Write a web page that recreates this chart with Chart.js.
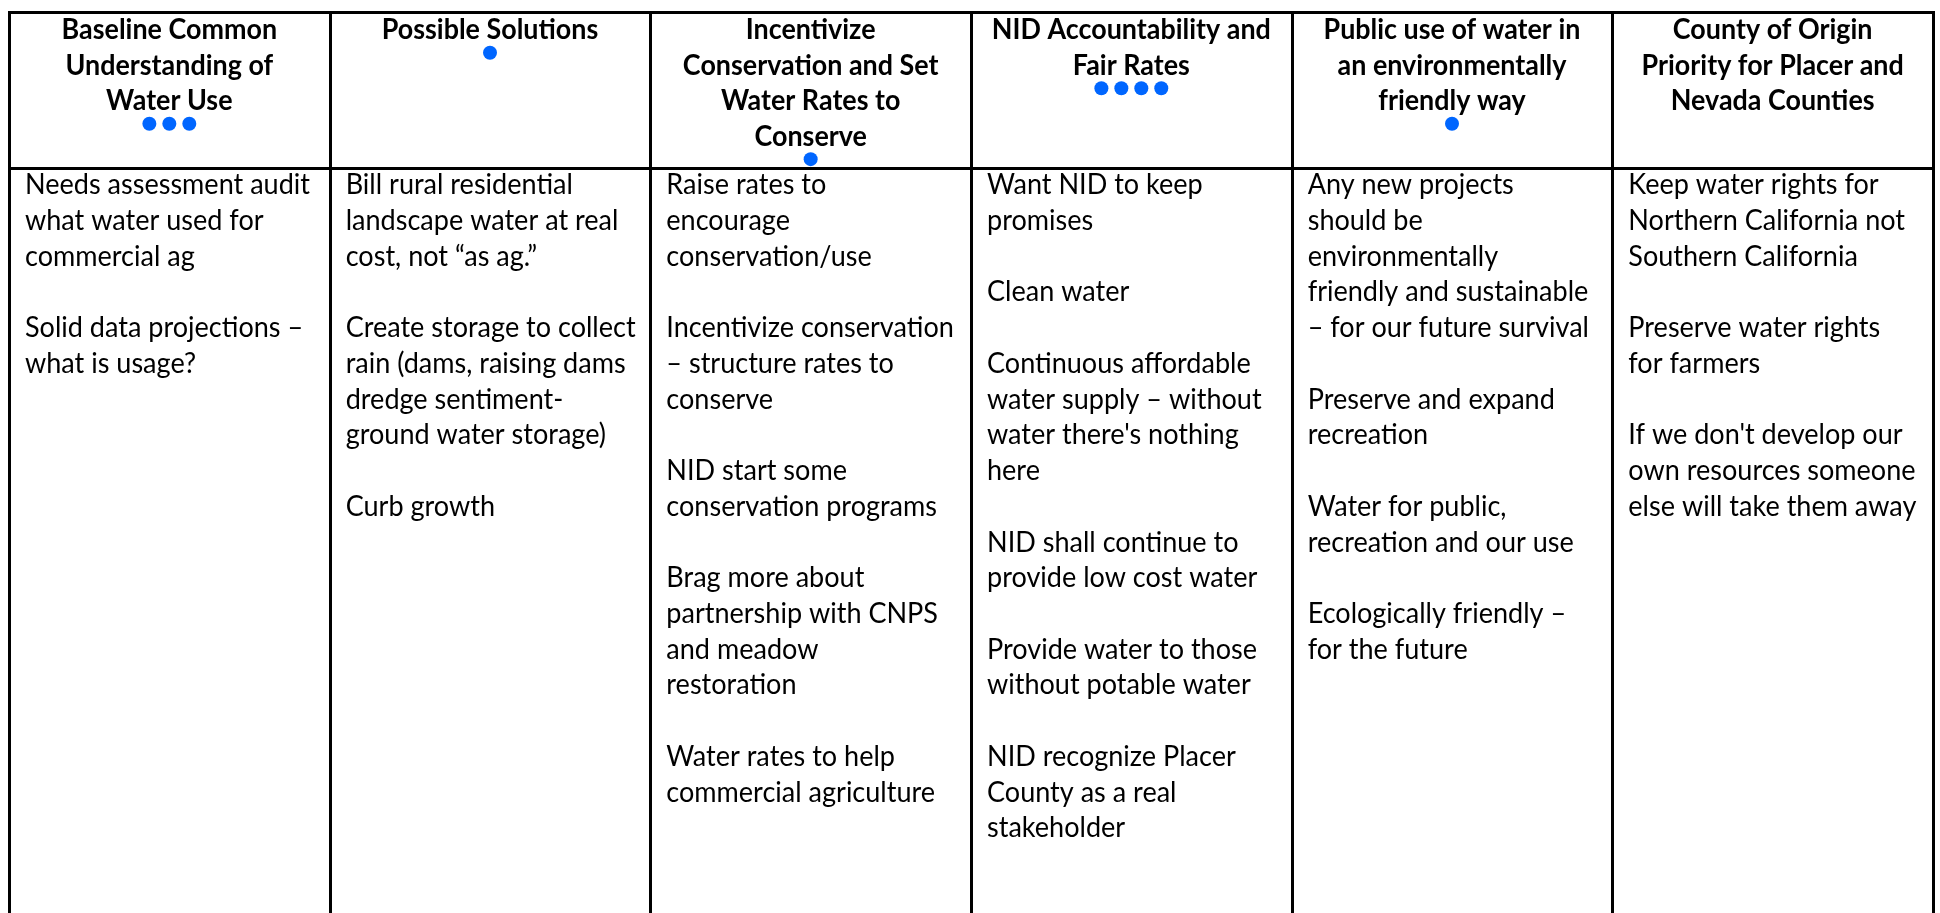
<!DOCTYPE html>
<html>
<head>
<meta charset="utf-8">
<script src="https://cdn.jsdelivr.net/npm/chart.js@4.4.1/dist/chart.umd.min.js"></script>
<style>
  html, body { margin: 0; padding: 0; background: #ffffff; overflow: hidden; }
  #wrap { position: relative; width: 1940px; height: 913px; }
  canvas { display: block; }
</style>
</head>
<body>
<div id="wrap"><canvas id="chart" width="1940" height="913"></canvas></div>
<script>
// ---- Data ----
const categories = [
  ["Baseline Common", "Understanding of", "Water Use"],
  ["Possible Solutions"],
  ["Incentivize", "Conservation and Set", "Water Rates to", "Conserve"],
  ["NID Accountability and", "Fair Rates"],
  ["Public use of water in", "an environmentally", "friendly way"],
  ["County of Origin", "Priority for Placer and", "Nevada Counties"]
];

// number of blue dots (votes) under each heading
const votes = [3, 1, 1, 4, 1, 0];

const notesBaseline = [
  ["Needs assessment audit", "what water used for", "commercial ag"],
  ["Solid data projections \u2013", "what is usage?"]
];
const notesSolutions = [
  ["Bill rural residential", "landscape water at real", "cost, not \u201cas ag.\u201d"],
  ["Create storage to collect", "rain (dams, raising dams", "dredge sentiment-", "ground water storage)"],
  ["Curb growth"]
];
const notesConservation = [
  ["Raise rates to", "encourage", "conservation/use"],
  ["Incentivize conservation", "\u2013 structure rates to", "conserve"],
  ["NID start some", "conservation programs"],
  ["Brag more about", "partnership with CNPS", "and meadow", "restoration"],
  ["Water rates to help", "commercial agriculture"]
];
const notesAccountability = [
  ["Want NID to keep", "promises"],
  ["Clean water"],
  ["Continuous affordable", "water supply \u2013 without", "water there's nothing", "here"],
  ["NID shall continue to", "provide low cost water"],
  ["Provide water to those", "without potable water"],
  ["NID recognize Placer", "County as a real", "stakeholder"]
];
const notesPublicUse = [
  ["Any new projects", "should be", "environmentally", "friendly and sustainable", "\u2013 for our future survival"],
  ["Preserve and expand", "recreation"],
  ["Water for public,", "recreation and our use"],
  ["Ecologically friendly \u2013", "for the future"]
];
const notesCountyOrigin = [
  ["Keep water rights for", "Northern California not", "Southern California"],
  ["Preserve water rights", "for farmers"],
  ["If we don't develop our", "own resources someone", "else will take them away"]
];

const columnNotes = [notesBaseline, notesSolutions, notesConservation,
                     notesAccountability, notesPublicUse, notesCountyOrigin];

// ---- Layout / style ----
const FONT_FAMILY = 'Lato, "Open Sans", "DejaVu Sans", sans-serif';
const BODY_SIZE = 29;
const HEAD_SIZE = 29;
const LINE_H = 36.3;      // body line pitch (px)
const HEAD_LINE_H = 36;   // header line pitch (px)
const TABLE_TOP = 5;
const HEADER_BOTTOM = 163;
const HEAD_BASE0 = 33;    // baseline of first heading line
const BODY_BASE0 = 190;   // baseline of first body line
const CELL_PAD = 16;
const DOT_OFFSET = 13.5;  // below last heading baseline
const DOT_GAP_PX = 20;
const DOT_COLOR = '#0066FF';

// measure compression so the humanist font matches the narrow original face
const mctx = document.createElement('canvas').getContext('2d');
mctx.font = BODY_SIZE + 'px ' + FONT_FAMILY;
const BODY_SX = 285 / mctx.measureText('Needs assessment audit').width;
mctx.font = 'bold ' + HEAD_SIZE + 'px ' + FONT_FAMILY;
const HEAD_SX = 279 / mctx.measureText('NID Accountability and').width;

const nCols = categories.length;

// dots built from the vote counts
const dotPoints = [];
votes.forEach((count, i) => {
  const nLines = categories[i].length;
  const yVal = HEAD_BASE0 + (nLines - 1) * HEAD_LINE_H + DOT_OFFSET;
  for (let k = 0; k < count; k++) {
    dotPoints.push({ col: i, k: k, count: count, y: yVal });
  }
});

const tablePlugin = {
  id: 'tablePlugin',
  beforeDatasetsDraw(chart) {
    const { ctx, scales } = chart;
    const xs = scales.x, ys = scales.y;
    ctx.save();
    ctx.fillStyle = '#ffffff';
    ctx.fillRect(0, 0, chart.width, chart.height);

    ctx.fillStyle = '#000000';
    ctx.textBaseline = 'alphabetic';

    // headings
    ctx.font = 'bold ' + HEAD_SIZE + 'px ' + FONT_FAMILY;
    ctx.textAlign = 'center';
    categories.forEach((lines, i) => {
      const cx = xs.getPixelForValue(i + 0.5);
      lines.forEach((t, j) => {
        const by = ys.getPixelForValue(HEAD_BASE0 + j * HEAD_LINE_H);
        ctx.save();
        ctx.translate(cx, by);
        ctx.scale(HEAD_SX, 1);
        ctx.fillText(t, 0, 0);
        ctx.restore();
      });
    });

    // body notes
    ctx.font = BODY_SIZE + 'px ' + FONT_FAMILY;
    ctx.textAlign = 'left';
    columnNotes.forEach((paras, i) => {
      const lx = xs.getPixelForValue(i) + CELL_PAD;
      let row = 0;
      paras.forEach((para, p) => {
        if (p > 0) row += 1; // blank line between paragraphs
        para.forEach(t => {
          const by = ys.getPixelForValue(BODY_BASE0 + row * LINE_H);
          ctx.save();
          ctx.translate(lx, by);
          ctx.scale(BODY_SX, 1);
          ctx.fillText(t, 0, 0);
          ctx.restore();
          row += 1;
        });
      });
    });

    // grid lines
    ctx.strokeStyle = '#000000';
    ctx.lineWidth = 3;
    const top = Math.round(ys.getPixelForValue(TABLE_TOP)) + 0.5;
    const hb = Math.round(ys.getPixelForValue(HEADER_BOTTOM)) + 0.5;
    const bottom = chart.height + 2;
    const left = Math.round(xs.getPixelForValue(0));
    const right = Math.round(xs.getPixelForValue(nCols));
    ctx.beginPath();
    for (let i = 0; i <= nCols; i++) {
      const px = Math.round(xs.getPixelForValue(i)) + 0.5;
      ctx.moveTo(px, top - 1.5);
      ctx.lineTo(px, bottom);
    }
    ctx.moveTo(left - 1, top);
    ctx.lineTo(right + 2, top);
    ctx.moveTo(left - 1, hb);
    ctx.lineTo(right + 2, hb);
    ctx.stroke();
    ctx.restore();
  }
};

const ctxMain = document.getElementById('chart').getContext('2d');
const chart = new Chart(ctxMain, {
  type: 'scatter',
  data: {
    datasets: [{
      label: 'Votes',
      data: [],
      pointRadius: 7,
      pointHoverRadius: 7,
      pointBackgroundColor: DOT_COLOR,
      pointBorderWidth: 0,
      pointBorderColor: DOT_COLOR
    }]
  },
  options: {
    responsive: false,
    animation: false,
    devicePixelRatio: 1,
    layout: { padding: { left: 9, right: 4, top: 0, bottom: 0 } },
    plugins: { legend: { display: false }, tooltip: { enabled: false } },
    events: [],
    scales: {
      x: { type: 'linear', min: 0, max: nCols, display: false },
      y: { type: 'linear', min: 0, max: 913, reverse: true, display: false }
    }
  },
  plugins: [tablePlugin]
});

// place dots using the x scale (column centre +/- gap converted to units)
const xs = chart.scales.x;
const unitPx = xs.getPixelForValue(1) - xs.getPixelForValue(0);
chart.data.datasets[0].data = dotPoints.map(p => ({
  x: p.col + 0.5 + (p.k - (p.count - 1) / 2) * (DOT_GAP_PX / unitPx),
  y: p.y
}));
chart.update();
</script>
</body>
</html>
